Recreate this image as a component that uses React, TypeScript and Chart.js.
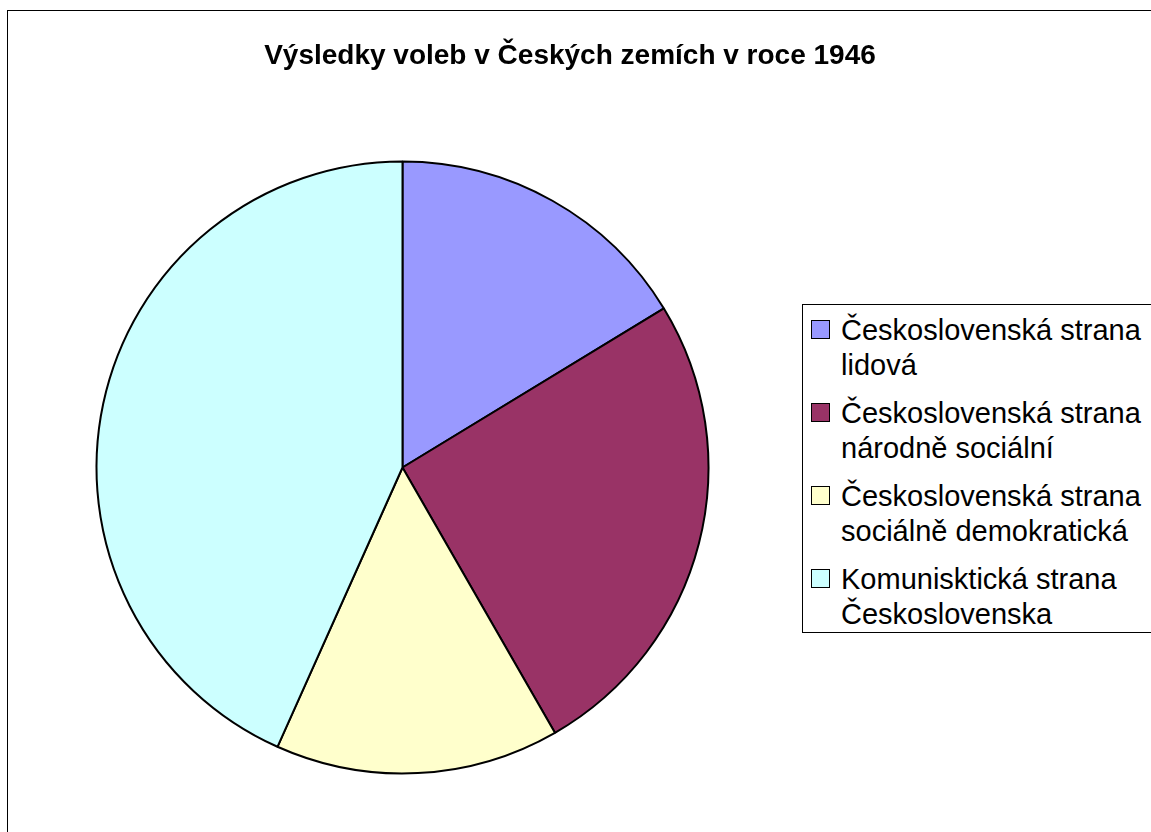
import React, { useEffect, useRef } from "react";
import { Chart, registerables } from "chart.js";

Chart.register(...registerables);

const TITLE = "Výsledky voleb v Českých zemích v roce 1946";
const PARTIES: string[][] = [
  ["Československá strana", "lidová"],
  ["Československá strana", "národně sociální"],
  ["Československá strana", "sociálně demokratická"],
  ["Komunisktická strana", "Československa"],
];
const SHARES = [16.3, 25.4, 15.0, 43.3];
const COLORS = ["#9999FF", "#993366", "#FFFFCC", "#CCFFFF"];

const FONT = '"Liberation Sans", Arial, sans-serif';

export default function App() {
  const ref = useRef<HTMLCanvasElement | null>(null);

  useEffect(() => {
    if (!ref.current) return;
    const chart = new Chart(ref.current, {
      type: "pie",
      data: {
        labels: PARTIES.map((p) => p.join(" ")),
        datasets: [
          {
            data: SHARES,
            backgroundColor: COLORS,
            borderColor: "#000000",
            borderWidth: 2,
          },
        ],
      },
      options: {
        animation: false,
        responsive: false,
        maintainAspectRatio: false,
        layout: {
          padding: { left: 95.5, right: 441.5, top: 160.5, bottom: 57.5 },
        },
        plugins: {
          legend: { display: false },
          title: { display: false },
          tooltip: { enabled: false },
        },
      },
    });
    return () => chart.destroy();
  }, []);

  return (
    <div
      style={{
        position: "fixed",
        left: 0,
        top: 0,
        width: 1151,
        height: 832,
        overflow: "hidden",
        background: "#ffffff",
        fontFamily: FONT,
      }}
    >
      <div
        style={{
          position: "absolute",
          left: 7,
          top: 10,
          width: 1200,
          height: 900,
          border: "1px solid #000",
          boxSizing: "border-box",
        }}
      />
      <canvas
        ref={ref}
        width={1151}
        height={832}
        style={{ position: "absolute", left: 0, top: 0 }}
      />
      <div
        style={{
          position: "absolute",
          left: 0,
          width: 1140,
          top: 39,
          textAlign: "center",
          fontWeight: "bold",
          fontSize: 28,
          lineHeight: "32px",
          color: "#000",
          whiteSpace: "nowrap",
        }}
      >
        {TITLE}
      </div>
      <div
        style={{
          position: "absolute",
          left: 802,
          top: 304,
          width: 360,
          height: 329,
          border: "1px solid #000",
          boxSizing: "border-box",
          background: "#fff",
          paddingTop: 8,
        }}
      >
        {PARTIES.map((lines, i) => (
          <div
            key={i}
            style={{
              position: "relative",
              paddingLeft: 38,
              marginBottom: 13,
              fontSize: 29,
              lineHeight: "35px",
              color: "#000",
              whiteSpace: "nowrap",
            }}
          >
            <div
              style={{
                position: "absolute",
                left: 8,
                top: 7,
                width: 19,
                height: 19,
                background: COLORS[i],
                border: "1.5px solid #000",
                boxSizing: "border-box",
              }}
            />
            {lines.map((l, j) => (
              <div key={j}>{l}</div>
            ))}
          </div>
        ))}
      </div>
    </div>
  );
}
